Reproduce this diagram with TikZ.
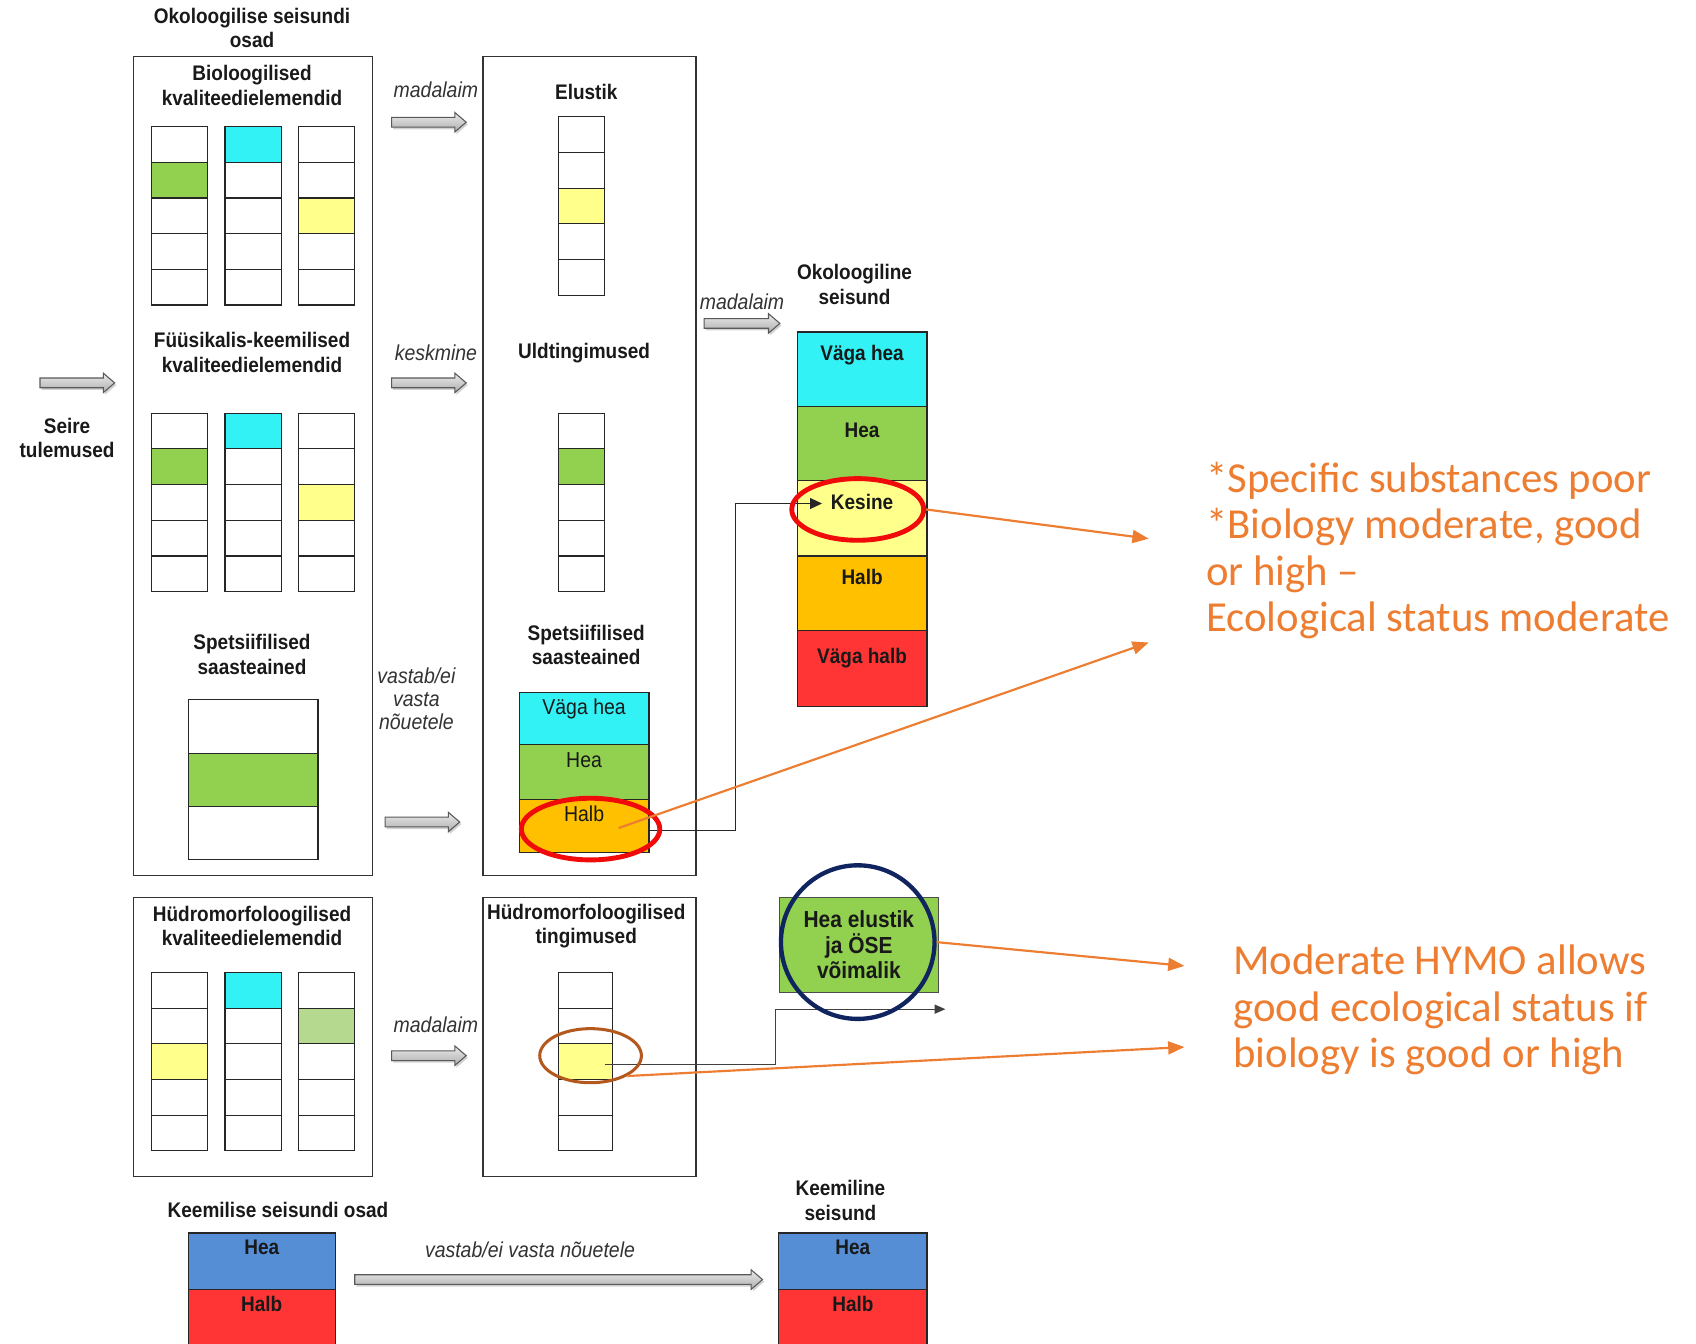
\documentclass[tikz,border=0pt]{standalone}
\usepackage{fontspec}
\newfontfamily\dgfont{Liberation Sans}[FakeStretch=0.9]
\newfontfamily\notefont{Carlito}
\usetikzlibrary{shapes.geometric, arrows.meta, positioning, calc, shadows}
\definecolor{cyn}{HTML}{33F2F5}
\definecolor{grn}{HTML}{92D050}
\definecolor{lgrn}{HTML}{B5D98E}
\definecolor{ylw}{HTML}{FFFF8C}
\definecolor{org}{HTML}{FFC000}
\definecolor{rd}{HTML}{FF3535}
\definecolor{blu}{HTML}{558ED5}
\definecolor{noteC}{HTML}{ED7D31}
\definecolor{ring}{HTML}{F00A0A}
\definecolor{navy}{HTML}{10245F}
\definecolor{brn}{HTML}{B4591E}
\tikzset{
  ttl/.style  = {font=\dgfont\bfseries\fontsize{19.5}{22.5}\selectfont,
                 align=center, inner sep=0pt, text=black!90},
  itl/.style  = {font=\dgfont\itshape\fontsize{20}{21}\selectfont,
                 align=center, inner sep=0pt, text=black!80},
  cell/.style = {draw=black!85, line width=1.1pt, anchor=north west,
                 inner sep=0pt, outer sep=0pt, minimum height=33pt},
  frm/.style  = {draw=black!80, line width=1.1pt, anchor=north west,
                 inner sep=0pt},
  stk/.style  = {draw=black!85, line width=1.1pt, inner sep=0pt,
                 outer sep=0pt, minimum width=120pt},
  stxt/.style = {anchor=north, yshift=-#1, inner sep=0pt, text=black!90,
                 text height=14pt, text depth=4pt,
                 font=\dgfont\bfseries\fontsize{19.5}{22}\selectfont},
  stxr/.style = {stxt=#1, font=\dgfont\fontsize{20}{22}\selectfont},
  blockarr/.style = {draw=black!65, line width=1pt, top color=black!8,
                 bottom color=black!32,
                 drop shadow={shadow xshift=1.5pt, shadow yshift=-2pt,
                 fill=black!35, opacity=0.5}},
  conn/.style = {line width=1.1pt, draw=black!75},
  narr/.style = {-{Triangle[length=15pt,width=12pt]}, line width=2pt,
                 draw=noteC},
  note/.style = {font=\notefont\fontsize{39.5}{43}\selectfont, text=noteC,
                 align=left, inner sep=0pt},
}
% column of five class cells, one of them coloured
\newcommand{\barcol}[6]{%
  \foreach \r in {1,...,5}{
    \ifnum\r=#5\relax \def\cc{#6}\else\def\cc{white}\fi
    \node[cell, minimum width=#4, fill=\cc] (#1-\r) at (#2,{#3+33*(\r-1)}) {};
  }}
% grey block arrow: x, y, length
\newcommand{\grayarr}[3]{%
  \draw[blockarr] (#1,#2-4.5) -- ++(#3-10.5,0) -- ++(0,-4.5) -- ++(10.5,9)
    -- ++(-10.5,9) -- ++(0,-4.5) -- ++(-#3+10.5,0) -- cycle;}

\begin{document}
\begin{tikzpicture}[x=1pt, y=-1pt]

  \clip (0,0) rectangle (1568,1242);
  \fill[white] (0,0) rectangle (1568,1242);

  % frames
  \node[frm, minimum width=221pt, minimum height=757pt] (bioF) at (123,52) {};
  \node[frm, minimum width=197pt, minimum height=757pt] (midF) at (446,52) {};
  \node[frm, minimum width=221pt, minimum height=258pt] (hyL)  at (123,829) {};
  \node[frm, minimum width=197pt, minimum height=258pt] (hyM)  at (446,829) {};

  % titles
  \node[ttl] (osad)  at (233,26)  {Okoloogilise seisundi\\osad};
  \node[ttl] (bioT)  at (233,79)  {Bioloogilised\\kvaliteedielemendid};
  \node[ttl] (fkT)   at (233,326) {Füüsikalis-keemilised\\kvaliteedielemendid};
  \node[ttl] (ssT)   at (233,605) {Spetsiifilised\\saasteained};
  \node[ttl] (hkT)   at (233,856) {Hüdromorfoloogilised\\kvaliteedielemendid};
  \node[ttl] (seire) at (62,405)  {Seire\\tulemused};
  \node[ttl] (elT)   at (542,85)  {Elustik};
  \node[ttl] (uT)    at (540,326) {Uldtingimused};
  \node[ttl] (ssT2)  at (542,596) {Spetsiifilised\\saasteained};
  \node[ttl] (htT)   at (542,856) {Hüdromorfoloogilised\\tingimused};
  \node[ttl] (ecoT)  at (790,263) {Okoloogiline\\seisund};
  \node[ttl] (kT)    at (257,1119) {Keemilise seisundi osad};
  \node[ttl] (kT2)   at (777,1110) {Keemiline\\seisund};

  \node[itl] (m1) at (403,83)   {madalaim};
  \node[itl] (m2) at (403,326)  {keskmine};
  \node[itl] (m3) at (385,646)  {vastab/ei\\vasta\\nõuetele};
  \node[itl] (m4) at (403,947)  {madalaim};
  \node[itl] (m5) at (686,279)  {madalaim};
  \node[itl] (m6) at (490,1155) {vastab/ei vasta nõuetele};

  % class cells
  \barcol{b1}{140}{117}{52pt}{2}{grn}
  \barcol{b2}{208}{117}{52pt}{1}{cyn}
  \barcol{b3}{276}{117}{52pt}{3}{ylw}
  \barcol{f1}{140}{382}{52pt}{2}{grn}
  \barcol{f2}{208}{382}{52pt}{1}{cyn}
  \barcol{f3}{276}{382}{52pt}{3}{ylw}
  \barcol{h1}{140}{899}{52pt}{3}{ylw}
  \barcol{h2}{208}{899}{52pt}{1}{cyn}
  \barcol{h3}{276}{899}{52pt}{2}{lgrn}
  \barcol{e}{516}{108}{43pt}{3}{ylw}
  \barcol{u}{516}{382}{43pt}{2}{grn}
  \barcol{hm}{516}{899}{50pt}{3}{ylw}

  % specific substances
  \node[stk, anchor=north west, minimum height=49.3pt, fill=white] (ss1) at (174,647) {};
  \node[stk, below=0pt of ss1, minimum height=49.3pt, fill=grn]   (ss2) {};
  \node[stk, below=0pt of ss2, minimum height=49.3pt, fill=white] (ss3) {};

  \node[stk, anchor=north west, minimum height=48pt, fill=cyn,
        label={[stxr=6pt]north:Väga hea}] (sV) at (480,640) {};
  \node[stk, below=0pt of sV, minimum height=51pt, fill=grn,
        label={[stxr=7pt]north:Hea}] (sE) {};
  \node[stk, below=0pt of sE, minimum height=49pt, fill=org,
        label={[stxr=6pt]north:Halb}] (sH) {};

  % ecological status
  \node[stk, anchor=north west, minimum height=69pt, fill=cyn,
        label={[stxt=12pt]north:Väga hea}] (eV) at (737,307) {};
  \node[stk, below=0pt of eV, minimum height=68pt, fill=grn,
        label={[stxt=14pt]north:Hea}] (eH) {};
  \node[stk, below=0pt of eH, minimum height=70pt, fill=ylw,
        label={[stxt=13pt]north:Kesine}] (eK) {};
  \node[stk, below=0pt of eK, minimum height=69pt, fill=org,
        label={[stxt=12pt]north:Halb}] (eL) {};
  \node[stk, below=0pt of eL, minimum height=70pt, fill=rd,
        label={[stxt=16pt]north:Väga halb}] (eVL) {};

  % chemical status
  \node[stk, anchor=north west, minimum width=136pt, minimum height=52pt, fill=blu,
        label={[stxt=6pt]north:Hea}] (cL1) at (174,1140) {};
  \node[stk, below=0pt of cL1, minimum width=136pt, minimum height=60pt, fill=rd,
        label={[stxt=6pt]north:Halb}] (cL2) {};
  \node[stk, anchor=north west, minimum width=137pt, minimum height=52pt, fill=blu,
        label={[stxt=6pt]north:Hea}] (cR1) at (720,1140) {};
  \node[stk, below=0pt of cR1, minimum width=137pt, minimum height=60pt, fill=rd,
        label={[stxt=6pt]north:Halb}] (cR2) {};

  \node[ttl, draw=black!70, line width=1.1pt, fill=grn, anchor=north west,
        minimum width=147pt, minimum height=88pt, font=\dgfont\bfseries\fontsize{21.5}{23.5}\selectfont]
        (heaE) at (720,829) {Hea elustik\\ja ÖSE\\võimalik};

  % block arrows
  \grayarr{37}{354}{69}
  \grayarr{362}{113}{69}
  \grayarr{362}{354}{69}
  \grayarr{356}{760}{69}
  \grayarr{362}{976}{69}
  \grayarr{651}{299}{70}
  \grayarr{328}{1183}{377}

  % result lines
  \coordinate (kTip) at (760,465.5);
  \draw[conn, -{Triangle[length=11pt,width=10pt]}, draw=black!85]
    ($(sH.east)+(0,4)$) -- ++(80,0) |- (kTip);
  \coordinate (hTip) at (874,933);
  \draw[conn, -{Triangle[length=10pt,width=8.5pt]}]
    ($(hm-3.east)+(-7,2.5)$) -- ++(158,0) |- (hTip);

  % highlights
  \node[ellipse, draw=ring, line width=4.5pt, minimum width=128pt, minimum height=57pt] (rS) at (546,766.5) {};
  \node[ellipse, draw=ring, line width=4.5pt, minimum width=122pt, minimum height=57pt] (rK) at (793,471) {};
  \node[circle, draw=navy, line width=4pt, minimum size=142pt] (cH) at (793,871) {};
  \node[ellipse, draw=brn, line width=2.8pt, minimum width=94pt, minimum height=50pt] (bH) at (546,976) {};

  % notes
  \node[note, anchor=west] (n1) at (1115,509)
    {*Specific substances poor\\*Biology moderate, good\\or high –\\Ecological status moderate};
  \node[note, anchor=west] (n2) at (1140,934)
    {Moderate HYMO allows\\good ecological status if\\biology is good or high};

  \coordinate (a1) at (1062,498);
  \coordinate (a2) at (1062,594);
  \coordinate (a3) at (1095,893);
  \coordinate (a4) at (1095,968);
  \draw[narr] (rK.east) -- (a1);
  \draw[narr] ($(rS.center)+(26,-1)$) -- (a2);
  \draw[narr] (cH.east) -- (a3);
  \draw[narr] (bH.-29) -- (a4);

\end{tikzpicture}
\end{document}
